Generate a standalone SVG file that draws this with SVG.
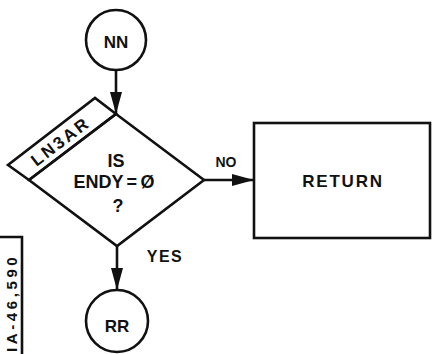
<svg xmlns="http://www.w3.org/2000/svg" width="432" height="354" viewBox="0 0 432 354">
<defs>
<style>
.s{fill:none;stroke:#111;stroke-width:2.6;stroke-linejoin:miter}
.t{font-family:"Liberation Sans",Arial,sans-serif;font-weight:bold;fill:#111;text-anchor:middle}
.l{text-anchor:start}
</style>
<marker id="ah" markerUnits="userSpaceOnUse" markerWidth="24" markerHeight="14" refX="22" refY="6" orient="auto" viewBox="0 0 24 12">
<path d="M0,0 L22,6 L0,12 Z" fill="#111"/>
</marker>
</defs>
<rect width="432" height="354" fill="#fff"/>
<g id="connectors">
<line class="s" x1="116" y1="70" x2="116" y2="114" marker-end="url(#ah)"/>
<line class="s" x1="204" y1="180" x2="254" y2="180" marker-end="url(#ah)"/>
<line class="s" x1="117" y1="246" x2="117" y2="290" marker-end="url(#ah)"/>
<text class="t" x="226" y="167" font-size="14">NO</text>
<text class="t" x="165" y="262" font-size="16" letter-spacing="1.5">YES</text>
</g>
<g id="NN">
<circle class="s" cx="116" cy="40" r="30"/>
<text class="t" x="116" y="48" font-size="17">NN</text>
</g>
<g id="LN3AR">
<polygon class="s" points="116,114 204,180 117,246 29,180"/>
<polygon class="s" points="29,180 8,165 95,98 116,114"/>
<text class="t" font-size="17" letter-spacing="2.5" transform="translate(64,146) rotate(-37.2)">LN3AR</text>
<text class="t" x="116" y="167" font-size="18">IS</text>
<text class="t" x="114" y="188" font-size="18" word-spacing="-1.5">ENDY = Ø</text>
<text class="t" x="118" y="212" font-size="18">?</text>
</g>
<g id="RETURN">
<rect class="s" x="254" y="123" width="176" height="115"/>
<text class="t" x="343" y="187" font-size="17" letter-spacing="1.8">RETURN</text>
</g>
<g id="RR">
<circle class="s" cx="117" cy="321" r="31"/>
<text class="t" x="117" y="332" font-size="17">RR</text>
</g>
<g id="tag">
<polyline class="s" points="0,237 22,237 22,354"/>
<text class="t l" font-size="15" letter-spacing="3.6" transform="translate(17,352) rotate(-90)">IA-46,590</text>
</g>
</svg>
